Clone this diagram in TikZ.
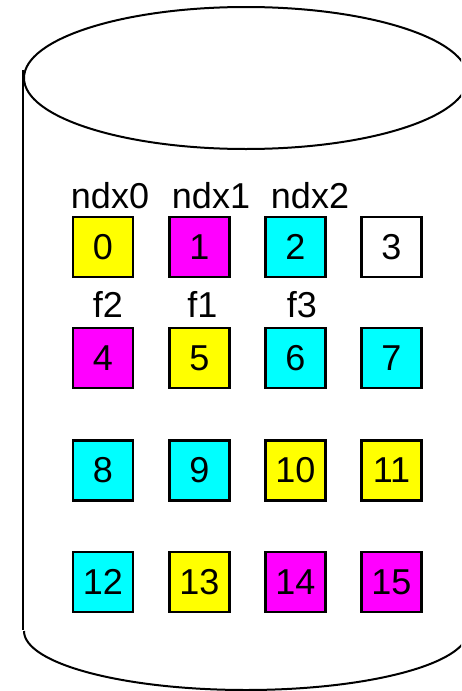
\documentclass[tikz,border=0pt]{standalone}
\usepackage{fontspec}
\setmainfont{Liberation Sans}
\definecolor{cyl}{RGB}{0,0,0}
\definecolor{cy}{RGB}{0,255,255}
\definecolor{ye}{RGB}{255,255,0}
\definecolor{ma}{RGB}{255,0,255}
\tikzset{
  cell/.style={draw=black, line width=2.4pt, minimum size=60pt, inner sep=0pt,
    font=\fontsize{36}{40}\selectfont},
  tag/.style={anchor=base, inner sep=0pt, font=\fontsize{36}{40}\selectfont},
  rim/.style={draw=cyl, line width=2pt}
}
\begin{document}
\begin{tikzpicture}[x=1pt,y=-1pt]
\useasboundingbox (0,0) rectangle (461,691);
\clip (0,0) rectangle (461,691);
% cylinder
\draw[rim] (246,78) ellipse [x radius=222, y radius=71];
\draw[rim] (23,70) -- (23,630);
\draw[rim] (24,631) arc [start angle=180, end angle=360, x radius=222, y radius=-59];
% row 1
\node[cell, fill=ye] (b0) at (103,247) {0};
\node[cell, fill=ma] (b1) at (199.5,247) {1};
\node[cell, fill=cy] (b2) at (295.5,247) {2};
\node[cell, fill=white] (b3) at (391.5,247) {3};
% row 2
\node[cell, fill=ma] (b4) at (103,358) {4};
\node[cell, fill=ye] (b5) at (199.5,358) {5};
\node[cell, fill=cy] (b6) at (295.5,358) {6};
\node[cell, fill=cy] (b7) at (391.5,358) {7};
% row 3
\node[cell, fill=cy] (b8) at (103,470.5) {8};
\node[cell, fill=cy] (b9) at (199.5,470.5) {9};
\node[cell, fill=ye] (b10) at (295.5,470.5) {10};
\node[cell, fill=ye] (b11) at (391.5,470.5) {11};
% row 4
\node[cell, fill=cy] (b12) at (103,582) {12};
\node[cell, fill=ye] (b13) at (199.5,582) {13};
\node[cell, fill=ma] (b14) at (295.5,582) {14};
\node[cell, fill=ma] (b15) at (391.5,582) {15};
% labels
\node[tag] (n0) at (110,208) {ndx0};
\node[tag] (n1) at (211,208) {ndx1};
\node[tag] (n2) at (310,208) {ndx2};
\node[tag] (f2) at (108,317) {f2};
\node[tag] (f1) at (202.5,317) {f1};
\node[tag] (f3) at (302,317) {f3};
\end{tikzpicture}
\end{document}
